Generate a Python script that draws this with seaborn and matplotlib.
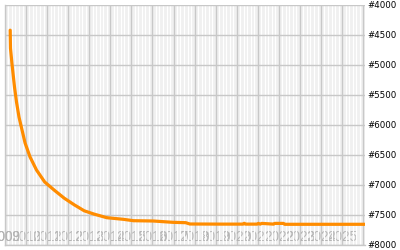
import matplotlib
matplotlib.use("Agg")
import matplotlib.pyplot as plt
import matplotlib.dates as mdates
import seaborn as sns
import pandas as pd

# ---- data ----
dates = [
    "2009-04-01", "2009-04-06", "2009-05-01", "2009-06-15", "2009-07-20",
    "2009-09-01", "2009-10-20", "2009-12-15", "2010-03-10", "2010-07-01",
    "2010-11-20", "2011-05-10", "2011-10-25", "2012-04-15", "2012-10-05",
    "2013-03-25", "2013-11-01", "2014-08-15", "2015-02-05", "2016-01-15",
    "2016-12-20", "2017-07-30", "2017-10-10", "2019-04-20", "2020-04-20",
    "2020-05-10", "2020-06-01", "2020-12-20", "2021-01-10", "2021-02-10",
    "2021-03-10", "2021-10-01", "2021-10-20", "2022-03-20", "2022-04-10",
    "2026-01-31",
]
ranks = [
    4420, 4720, 4970, 5370, 5620,
    5870, 6070, 6300, 6530, 6750,
    6950, 7090, 7220, 7330, 7430,
    7485, 7545, 7572, 7595, 7600,
    7622, 7628, 7650, 7652, 7652,
    7638, 7652, 7652, 7640, 7652,
    7640, 7652, 7640, 7640, 7655,
    7655,
]
year_ticks = ["2009", "2010", "2011", "2012", "2013", "2014", "2015", "2016", "2017",
              "2018", "2019", "2020", "2021", "2022", "2023", "2024", "2025", "2026"]
year_labels = ["2009", "2010", "2011", "2012", "2013", "2014", "2015", "2016", "2017",
               "2018", "2019", "2020", "2021", "2022", "2023", "2024", "2025", ""]
rank_ticks = [4000, 4500, 5000, 5500, 6000, 6500, 7000, 7500, 8000]
rank_labels = ["#4000", "#4500", "#5000", "#5500", "#6000", "#6500", "#7000", "#7500", "#8000"]

sns.set_style("white")
fig = plt.figure(figsize=(4, 2.5), dpi=100)
ax = fig.add_axes([0.0125, 0.02, 0.9, 0.96])

df = pd.DataFrame({"date": pd.to_datetime(dates), "rank": ranks})
sns.lineplot(data=df, x="date", y="rank", color="#ff8c00", linewidth=2.3, ax=ax)

ax.set_facecolor("#f0f0f0")
xmin, xmax = pd.Timestamp("2009-04-01"), pd.Timestamp("2026-02-01")
ax.set_xlim(xmin, xmax)
ax.set_ylim(8000, 4000)

XPAD = -10.5
tick_dates = pd.to_datetime([y + "-01-01" for y in year_ticks])
ax.set_xticks(tick_dates)
ax.set_xticklabels(year_labels)
ax.xaxis.set_minor_locator(mdates.MonthLocator(bymonth=[3, 5, 7, 9, 11]))
xfam = "Liberation Sans"
xsize = 9.8
for lab in ax.get_xticklabels():
    lab.set_fontfamily(xfam)
    lab.set_fontsize(xsize)
ax.tick_params(axis="x", which="both", direction="in", length=0, pad=XPAD,
               labelcolor="#b4b4b4")
# label of the first year sits left of the visible range
for d, lab in zip(tick_dates, year_labels):
    if d < xmin and lab:
        ax.annotate(lab, xy=(mdates.date2num(d), 0), xycoords=ax.get_xaxis_transform(),
                    xytext=(0, -XPAD), textcoords="offset points",
                    ha="center", va="top", color="#b4b4b4",
                    family=xfam, size=xsize, annotation_clip=False)

ax.set_xlabel("")
ax.set_ylabel("")
ax.yaxis.tick_right()
ax.set_yticks(rank_ticks)
ax.set_yticklabels(rank_labels)
ax.tick_params(axis="y", length=0, pad=2, labelsize=6.2, labelcolor="black")

ax.set_axisbelow(True)
ax.grid(which="minor", axis="x", color="white", linewidth=0.9)
ax.grid(which="major", color="#c8c8c8", linewidth=1)
for s in ax.spines.values():
    s.set_color("#c8c8c8")
    s.set_linewidth(1)
ax.spines["top"].set_visible(False)
ax.spines["right"].set_visible(False)

fig.savefig("out.png", dpi=100)
